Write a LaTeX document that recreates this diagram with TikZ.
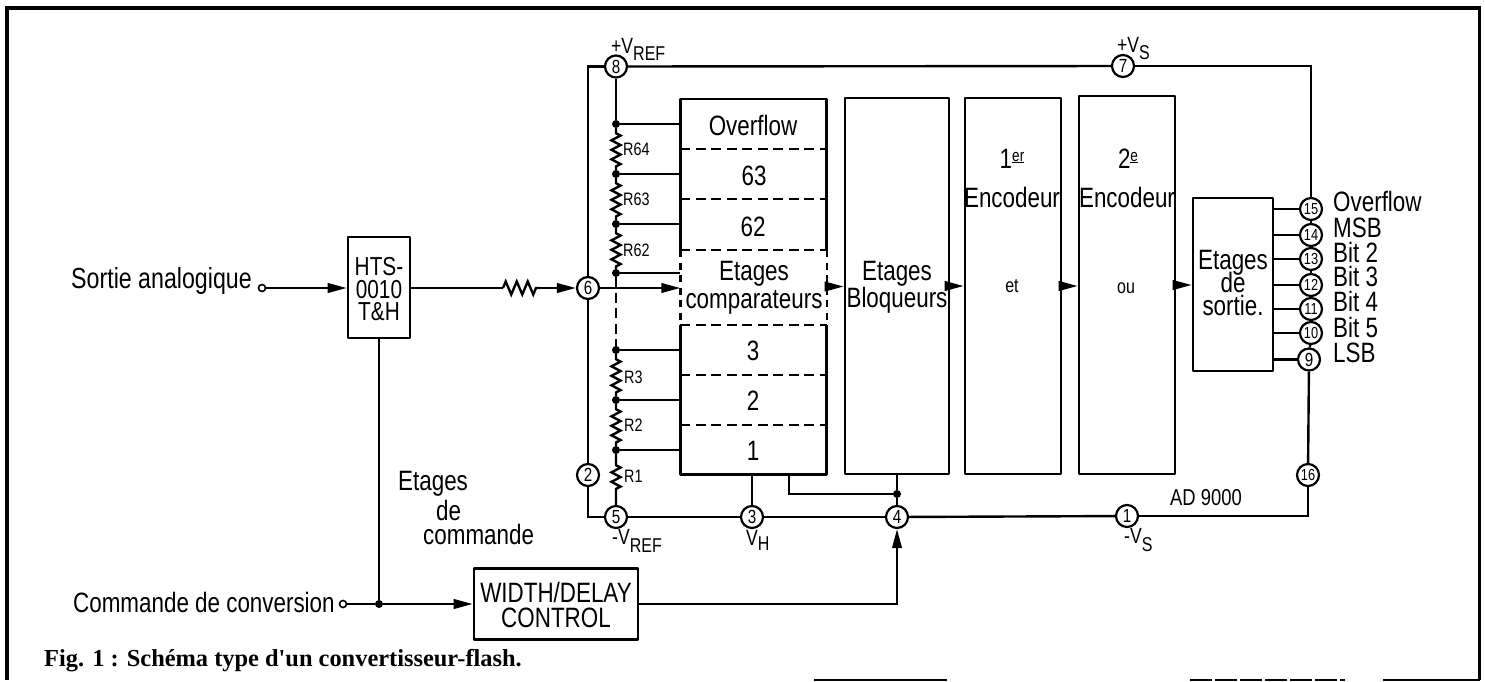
\documentclass[tikz,border=0pt]{standalone}
\usepackage{fontspec}
\setmainfont[FakeStretch=0.8]{Liberation Sans}
\newfontfamily\capfont{Liberation Serif}
\usetikzlibrary{arrows.meta,decorations.pathmorphing,calc}
\tikzset{
  wire/.style={line width=2.4pt},
  boxx/.style={draw,line width=2.6pt,rectangle,inner sep=0pt,line join=round},
  pin/.style={draw,circle,line width=2.2pt,minimum size=22pt,inner sep=0pt,fill=white,font=\fontsize{19}{19}\selectfont},
  pinn/.style={pin,font=\fontsize{16}{16}\selectfont},
  dot/.style={circle,fill=black,minimum size=8pt,inner sep=0pt},
  opencirc/.style={circle,draw,line width=1.6pt,minimum size=7pt,inner sep=0pt,fill=white},
  big/.style={inner sep=0pt,font=\fontsize{28}{28}\selectfont,text height=20pt,text depth=0pt},
  med/.style={inner sep=0pt,font=\fontsize{23}{23}\selectfont,text height=16.5pt,text depth=0pt},
  small/.style={inner sep=0pt,font=\fontsize{18}{18}\selectfont,text height=13pt,text depth=0pt},
  volt/.style={inner sep=0pt,font=\fontsize{22}{22}\selectfont,text height=15pt,text depth=0pt,anchor=west},
  arr/.style={wire,-{Triangle[length=19pt,width=9.5pt]}},
  dash line/.style={wire,dash pattern=on 10pt off 5.5pt},
  res/.style={wire,decorate,decoration={zigzag,amplitude=4.5pt,segment length=9.5pt,pre length=5pt,post length=2pt}},
}
\newcommand{\sbs}[2]{\raisebox{#1}{\fontsize{20}{20}\selectfont #2}}
\begin{document}
\begin{tikzpicture}[x=1pt,y=-1pt]
\useasboundingbox (0,0) rectangle (1485,681);
% frame
\coordinate (fa) at (7,680);
\coordinate (fb) at (7,8);
\coordinate (fc) at (1479.5,8);
\coordinate (fd) at (1479.5,680);
\draw[line width=3.2pt] (fa) -- (fb) -- (fc) -- (fd);
\coordinate (ba) at (814,680);
\coordinate (bb) at (947,680);
\coordinate (bc) at (1190,680);
\coordinate (bd) at (1345,680);
\coordinate (be) at (1383,680);
\draw[line width=2pt] (ba) -- (bb);
\draw[line width=2pt,dash pattern=on 22pt off 3pt] (bc) -- (bd);
\draw[line width=2pt] (be) -- (fd);
% boxes
\node[minimum width=146pt,minimum height=375pt,inner sep=0pt] (cmp) at (753.5,286.5) {};
\node[boxx,minimum width=104pt,minimum height=376pt] (blq) at (897,286) {};
\node[boxx,minimum width=96pt,minimum height=376pt] (enc1) at (1013,286) {};
\node[boxx,minimum width=96pt,minimum height=378pt] (enc2) at (1127,285) {};
\node[boxx,minimum width=80pt,minimum height=173pt] (sor) at (1233,284.5) {};
\node[boxx,minimum width=62pt,minimum height=101pt] (hts) at (379,287.5) {};
\node[boxx,minimum width=164pt,minimum height=71pt] (wid) at (556,604) {};
% comparator outline
\coordinate (y0) at (0,250);
\coordinate (y1) at (0,325);
\draw[line width=2.6pt,line join=round] (cmp.west|-y0) -- (cmp.north west) -- (cmp.north east) -- (cmp.east|-y0);
\draw[line width=2.6pt,line join=round] (cmp.west|-y1) -- (cmp.south west) -- (cmp.south east) -- (cmp.east|-y1);
\draw[wire,dash pattern=on 7pt off 5.5pt] (cmp.west|-y0) -- (cmp.west|-y1);
\draw[wire,dash pattern=on 7pt off 5.5pt] (cmp.east|-y0) -- (cmp.east|-y1);
\coordinate (ya) at (0,149);
\coordinate (yb) at (0,199);
\coordinate (yc) at (0,375);
\coordinate (yd) at (0,425);
\foreach \c in {ya,yb,y0,y1,yc,yd}
  \draw[dash line] (cmp.west|-\c) -- (cmp.east|-\c);
% pins
\node[pin] (p8) at (616,66.5) {8};
\node[pin] (p7) at (1123,66) {7};
\node[pin] (p6) at (588,288) {6};
\node[pin] (p2) at (588,475) {2};
\node[pin] (p5) at (616,517) {5};
\node[pin] (p3) at (752,517) {3};
\node[pin] (p4) at (897,517) {4};
\node[pin] (p1) at (1127,516) {1};
\node[pinn] (p16) at (1308,475) {16};
\node[pin] (p9) at (1309,359.5) {9};
\node[pinn] (p10) at (1311,333) {10};
\node[pinn] (p11) at (1311,309) {11};
\node[pinn] (p12) at (1311,285) {12};
\node[pinn] (p13) at (1311,259) {13};
\node[pinn] (p14) at (1311,235) {14};
\node[pinn] (p15) at (1311,209) {15};
% supply rails
\draw[wire] (p8) -- (p7);
\draw[wire] (p7) -| (p15);
\draw[wire] (p8) -| (p6);
\draw[wire] (p6) -- (p2);
\draw[wire] (p2) |- (p5);
\draw[wire] (p5) -- (p3);
\draw[wire] (p3) -- (p4);
\draw[wire] (p4) -- (p1);
\draw[wire] (p1) -| (p16);
\draw[wire] (p16) -- (p9);
\draw[wire] (p9) -- (p10);
\draw[wire] (p10) -- (p11);
\draw[wire] (p11) -- (p12);
\draw[wire] (p12) -- (p13);
\draw[wire] (p13) -- (p14);
\draw[wire] (p14) -- (p15);
% ladder
\node[dot] (d64) at (616,124) {};
\node[dot] (d63) at (616,174) {};
\node[dot] (d62) at (616,224) {};
\node[dot] (d61) at (616,273) {};
\node[dot] (d3) at (616,350) {};
\node[dot] (d2) at (616,400) {};
\node[dot] (d1) at (616,450) {};
\draw[wire] (p8) -- (d64);
\draw[res] (d64) -- (d63);
\draw[res] (d63) -- (d62);
\draw[res] (d62) -- (d61);
\draw[dash line] (d61) -- (d3);
\draw[res] (d3) -- (d2);
\draw[res] (d2) -- (d1);
\draw[wire,decorate,decoration={zigzag,amplitude=4.5pt,segment length=9.5pt,pre length=11pt,post length=15pt}] (d1) -- (p5);
\foreach \d in {d64,d63,d62,d61,d3,d2,d1}
  \draw[wire] (\d) -- (\d -| cmp.west);
% signal path
\node[opencirc] (ina) at (262,288) {};
\node[opencirc] (inb) at (343,604) {};
\node[dot] (jc) at (379,604) {};
\node[dot] (jb) at (897,494) {};
\coordinate (rs) at (503,288);
\coordinate (re) at (540,288);
\coordinate (cmo) at (789,474);
\draw[arr] (ina) -- (hts.west|-ina);
\draw[wire] (hts.east|-rs) -- (rs);
\draw[wire,decorate,decoration={zigzag,amplitude=6.5pt,segment length=11pt}] (rs) -- (re);
\draw[arr] (re) -- (p6);
\draw[arr] (p6) -- (p6-|cmp.west);
\draw[arr] (cmp.east) -- (blq.west|-cmp.east);
\draw[arr] (blq.east) -- (enc1.west|-blq.east);
\draw[arr] (enc1.east) -- (enc2.west|-enc1.east);
\draw[arr] (enc2.east) -- (sor.west|-enc2.east);
\draw[wire] (hts.south) -- (jc);
\draw[wire] (inb) -- (jc);
\draw[arr] (jc) -- (wid.west|-jc);
\draw[arr] (wid.east) -| (p4);
\draw[wire] (blq.south) -- (jb);
\draw[wire] (jb) -- (p4);
\draw[wire] (cmo) |- (jb);
\draw[wire] (cmp.south-|p3) -- (p3);
\foreach \p in {p15,p14,p13,p12,p11,p10,p9}
  \draw[wire] (\p) -- (\p -| sor.east);
% texts
\node[big] (t1) at (753,125) {Overflow};
\node[big] (t2) at (754,175) {63};
\node[big] (t3) at (753,226) {62};
\node[big] (t4) at (754,270) {Etages};
\node[big] (t5) at (754,298) {comparateurs};
\node[big] (t6) at (753,350) {3};
\node[big] (t7) at (753,400) {2};
\node[big] (t8) at (753,450) {1};
\node[big] (t9) at (897,270) {Etages};
\node[big] (t10) at (897,297) {Bloqueurs};
\node[big] (t11) at (1012,158) {1\raisebox{7pt}{\fontsize{17}{17}\selectfont\underline{er}}};
\node[big] (t12) at (1012,197) {Encodeur};
\node[small,font=\fontsize{20}{20}\selectfont] (t13) at (1012,286) {et};
\node[big] (t14) at (1128,158) {2\raisebox{7pt}{\fontsize{17}{17}\selectfont\underline{e}}};
\node[big] (t15) at (1127,197) {Encodeur};
\node[small,font=\fontsize{20}{20}\selectfont] (t16) at (1126,287) {ou};
\node[big] (t17) at (1233,259) {Etages};
\node[big] (t18) at (1233,282) {de};
\node[big] (t19) at (1233,305) {sortie.};
\node[big,font=\fontsize{26}{26}\selectfont] (t20) at (379,265) {HTS-};
\node[big,font=\fontsize{26}{26}\selectfont] (t21) at (379,288) {0010};
\node[big,font=\fontsize{26}{26}\selectfont] (t22) at (379,310) {T\&H};
\node[big] (t23) at (556,592) {WIDTH/DELAY};
\node[big] (t24) at (556,617) {CONTROL};
\node[big,anchor=west,font=\fontsize{29}{29}\selectfont] (t25) at (71,278) {Sortie analogique};
\node[big,anchor=west] (t26) at (73,602) {Commande de conversion};
\node[big,anchor=west] (t27) at (398,480) {Etages};
\node[big,anchor=west] (t28) at (436,510) {de};
\node[big,anchor=west] (t29) at (423,534) {commande};
\node[small,anchor=west] (t30) at (623,149) {R64};
\node[small,anchor=west] (t31) at (623,199) {R63};
\node[small,anchor=west] (t32) at (623,250) {R62};
\node[small,anchor=west] (t33) at (624,377) {R3};
\node[small,anchor=west] (t34) at (624,425) {R2};
\node[small,anchor=west] (t35) at (624,476) {R1};
\node[volt] (t36) at (611,45.5) {+V\sbs{-7pt}{REF}};
\node[volt] (t37) at (612,537) {-V\sbs{-8pt}{REF}};
\node[volt] (t38) at (746,538) {V\sbs{-5pt}{H}};
\node[volt] (t39) at (1124,536) {-V\sbs{-8pt}{S}};
\node[volt] (t40) at (1117,44.5) {+V\sbs{-7pt}{S}};
\node[med,anchor=west] (t41) at (1170,497) {AD 9000};
\node[big,anchor=west] (t42) at (1333,201) {Overflow};
\node[big,anchor=west] (t43) at (1333,227) {MSB};
\node[big,anchor=west] (t44) at (1333,252) {Bit 2};
\node[big,anchor=west] (t45) at (1333,276) {Bit 3};
\node[big,anchor=west] (t46) at (1333,301) {Bit 4};
\node[big,anchor=west] (t47) at (1333,327) {Bit 5};
\node[big,anchor=west] (t48) at (1333,352) {LSB};
\node[inner sep=0pt,anchor=west,font=\capfont\bfseries\fontsize{24.4}{24.4}\selectfont] (t49) at (44,661) {Fig. 1 : Schéma type d'un convertisseur-flash.};
\end{tikzpicture}
\end{document}
